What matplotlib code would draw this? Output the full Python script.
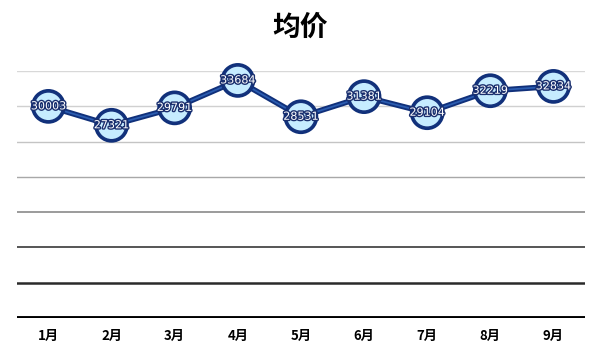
import matplotlib.pyplot as plt
import matplotlib.patheffects as pe
import numpy as np

plt.rcParams['font.family'] = ['Noto Sans CJK SC', 'DejaVu Sans']

months = ['1月', '2月', '3月', '4月', '5月', '6月', '7月', '8月', '9月']
prices = [30003, 27321, 29791, 33684, 28531, 31381, 29104, 32219, 32834]
grid_vals = [5000, 10000, 15000, 20000, 25000, 30000, 35000]

fig = plt.figure(figsize=(6, 3.61), dpi=100)
ax = fig.add_axes([0.028, 0.119, 0.947, 0.684])
x = np.arange(len(months))

# gridlines get darker toward the bottom
grid_cols = ['#2a2a2a', '#555555', '#808080', '#a8a8a8', '#c4c4c4', '#d0d0d0', '#d8d8d8']
grid_lw = [1.8, 1.4, 1.1, 1.0, 1.0, 1.0, 1.0]
for g, c, w in zip(grid_vals, grid_cols, grid_lw):
    ax.axhline(g, color=c, lw=w, zorder=1)
ax.axhline(0, color='black', lw=2.8, zorder=1)

ax.plot(x, prices, color='#2b5cb0', lw=1.3, zorder=3, clip_on=False,
        path_effects=[pe.Stroke(linewidth=4, foreground='#10307a'), pe.Normal()],
        marker='o', markersize=21, markerfacecolor='#c6ecff',
        markeredgecolor='#14337d', markeredgewidth=1.3)

for xi, v in zip(x, prices):
    ax.text(xi, v, str(v), ha='center', va='center', fontsize=8, color='white',
            family='DejaVu Sans', zorder=5,
            path_effects=[pe.withStroke(linewidth=2, foreground='#1a2f6e')])

ax.set_xlim(-0.5, len(months) - 0.5)
ax.set_ylim(0, 35000)
ax.set_xticks(x)
ax.set_xticklabels(months, fontsize=9.5, fontweight='bold')
ax.tick_params(length=0, pad=8)
ax.set_yticks([])
for s in ax.spines.values():
    s.set_visible(False)

fig.text(0.5, 0.922, '均价', ha='center', va='center', fontsize=20, fontweight='bold')

fig.savefig('out.png', dpi=100)
